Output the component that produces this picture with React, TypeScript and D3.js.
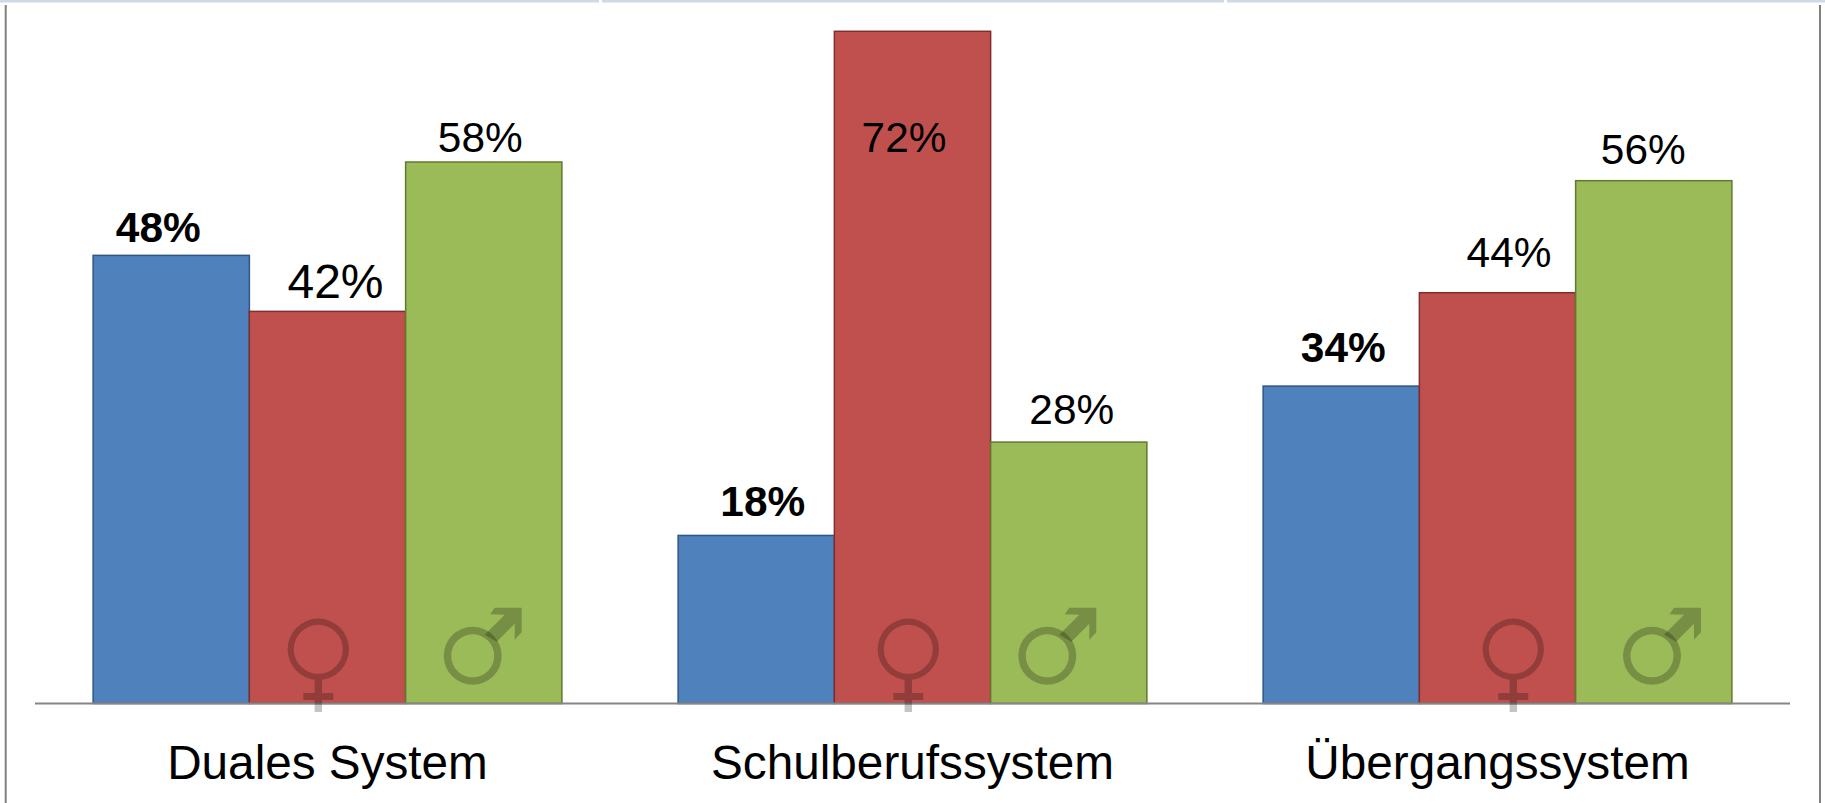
import React from "react";
import * as d3 from "d3";

// Anteil junger Frauen und Männer je Sektor der beruflichen Bildung
const categories = ["Duales System", "Schulberufssystem", "Übergangssystem"];
const seriesNames = ["Gesamt", "Frauen", "Männer"];
const totalShare = [48, 18, 34];
const femaleShare = [42, 72, 44];
const maleShare = [58, 28, 56];
const seriesValues = [totalShare, femaleShare, maleShare];

const fills = ["#4F81BD", "#C0504D", "#9BBB59"];
const strokes = ["#2F5587", "#7E2F2D", "#5F7A2E"];

// Hand-placed value labels: horizontal shift from the bar centre, gap above the bar top, type size
const labelShift = [
  [-13, 8, -3.5],
  [6.5, -8.5, 3],
  [2, 11.5, -10.5],
];
const labelGap = [
  [13, 13, 10],
  [19, -121, 18],
  [24, 26, 17],
];
const labelSize = [
  [42.4, 48, 42.4],
  [42.4, 42.4, 42.4],
  [42.4, 42.4, 42.4],
];

// Gender glyph centres, relative to the centre of each group
const femaleGlyphDx = [-9.2, -4.2, 15.8];
const maleGlyphDx = [145.2, 134.8, 154.5];

const WIDTH = 1825;
const HEIGHT = 803;
const BASELINE = 703.5;
const FONT = "'Liberation Sans', Arial, sans-serif";
const GLYPH = "#000";
const GLYPH_ALPHA = 0.23;

const x0 = d3.scaleBand<string>().domain(categories).range([35, 1790]);
const x1 = d3.scaleBand<string>().domain(seriesNames).range([0, x0.bandwidth()]).paddingOuter(0.372);
const y = d3.scaleLinear().domain([0, 72]).range([BASELINE, 31.3]);

const malePath = d3.line()([
  [22, -48], [49, -48], [49, -23.5], [42, -16], [42, -32], [24, -14],
  [12, -21], [32, -41], [17.5, -41.5],
]) + "Z";

function FemaleGlyph({ cx }: { cx: number }) {
  const cy = 649.3;
  return (
    <g fill={GLYPH} fillOpacity={GLYPH_ALPHA}>
      <path
        fillRule="evenodd"
        d={`${d3.arc()({ innerRadius: 24.5, outerRadius: 30.7, startAngle: 0, endAngle: 2 * Math.PI })}`}
        transform={`translate(${cx},${cy})`}
      />
      <path
        d={d3.line()([
          [cx - 3.7, cy + 30.5], [cx + 3.7, cy + 30.5], [cx + 3.7, cy + 43.7], [cx + 15, cy + 43.7],
          [cx + 15, cy + 50.7], [cx + 3.7, cy + 50.7], [cx + 3.7, 712], [cx - 3.7, 712],
          [cx - 3.7, cy + 50.7], [cx - 15, cy + 50.7], [cx - 15, cy + 43.7], [cx - 3.7, cy + 43.7],
        ]) + "Z"}
      />
    </g>
  );
}

function MaleGlyph({ cx }: { cx: number }) {
  const cy = 655.8;
  return (
    <g fill={GLYPH} fillOpacity={GLYPH_ALPHA} transform={`translate(${cx},${cy})`}>
      <path d={d3.arc()({ innerRadius: 21.5, outerRadius: 29, startAngle: 0, endAngle: 2 * Math.PI }) as string} />
      <path d={malePath} />
    </g>
  );
}

export default function App() {
  return (
    <svg
      width={WIDTH}
      height={HEIGHT}
      style={{ position: "absolute", left: 0, top: 0, display: "block", background: "#fff" }}
    >
      {/* Table rule along the top, and the side borders */}
      <g fill="#D0D8E8">
        <rect x={0} y={0} width={599} height={2.5} />
        <rect x={602} y={0} width={622} height={2.5} />
        <rect x={1227} y={0} width={598} height={2.5} />
      </g>
      <line x1={5.7} x2={5.7} y1={5} y2={HEIGHT} stroke="#808080" strokeWidth={2} />
      <line x1={1820} x2={1820} y1={5} y2={HEIGHT} stroke="#808080" strokeWidth={2} />

      {categories.map((cat, c) => (
        <g key={cat} transform={`translate(${x0(cat)},0)`}>
          {seriesNames.map((s, i) => (
            <rect
              key={s}
              x={x1(s)}
              y={y(seriesValues[i][c])}
              width={x1.bandwidth()}
              height={BASELINE - y(seriesValues[i][c])}
              fill={fills[i]}
              stroke={strokes[i]}
              strokeWidth={1.5}
            />
          ))}
        </g>
      ))}

      <line x1={35} x2={1790} y1={BASELINE} y2={BASELINE} stroke="#868686" strokeWidth={2} />

      {categories.map((cat, c) => {
        const center = x0(cat)! + x0.bandwidth() / 2;
        return (
          <g key={cat}>
            <FemaleGlyph cx={center + femaleGlyphDx[c]} />
            <MaleGlyph cx={center + maleGlyphDx[c]} />
            {seriesNames.map((s, i) => (
              <text
                key={s}
                x={x0(cat)! + x1(s)! + x1.bandwidth() / 2 + labelShift[c][i]}
                y={y(seriesValues[i][c]) - labelGap[c][i]}
                textAnchor="middle"
                fontFamily={FONT}
                fontSize={labelSize[c][i]}
                fontWeight={i === 0 ? 700 : 400}
                fill="#000"
              >
                {seriesValues[i][c]}%
              </text>
            ))}
            <text x={center} y={778.5} textAnchor="middle" fontFamily={FONT} fontSize={47.7} fill="#000">
              {cat}
            </text>
          </g>
        );
      })}
    </svg>
  );
}
